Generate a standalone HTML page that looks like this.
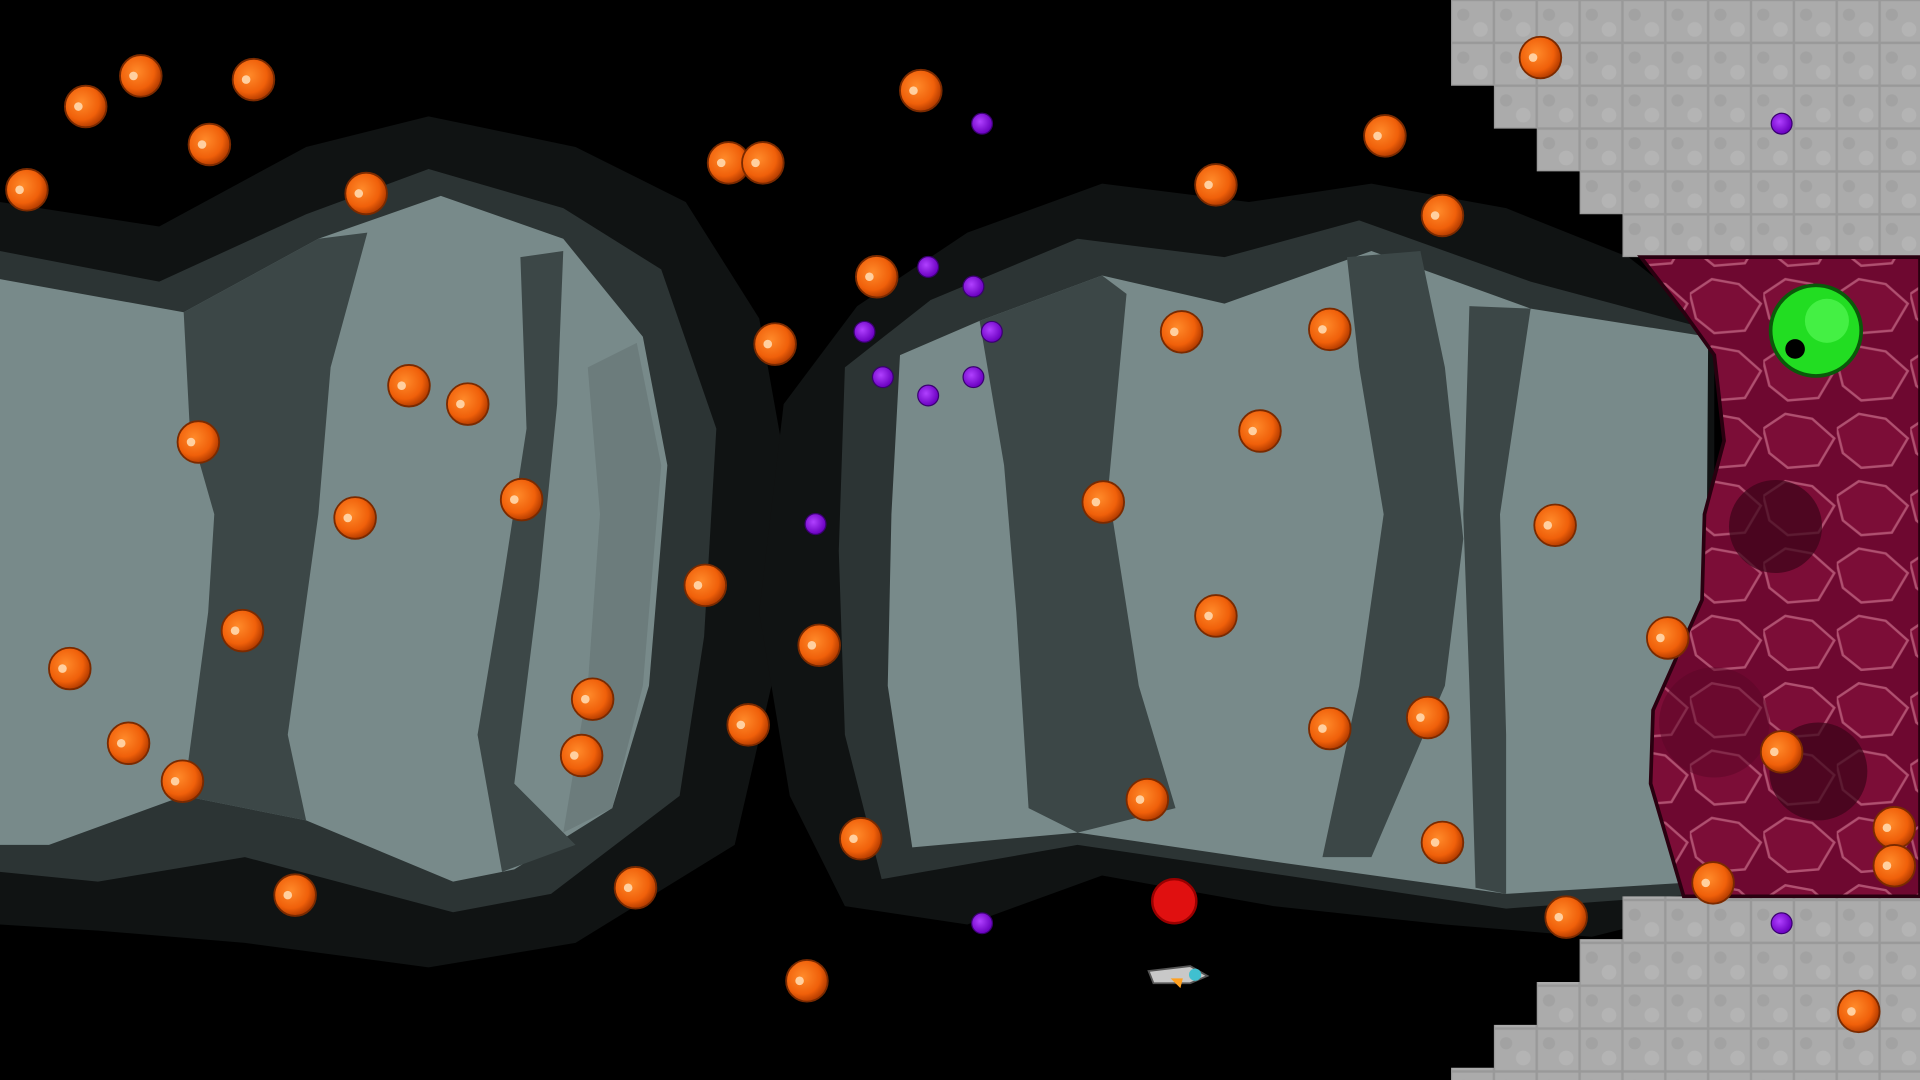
<!DOCTYPE html>
<html><head><meta charset="utf-8"><title>Game scene</title>
<style>
html,body{margin:0;padding:0;background:#000;width:1920px;height:1080px;overflow:hidden;font-family:"Liberation Sans",sans-serif;}
svg{display:block}
</style></head>
<body>
<svg id="scene" width="1920" height="1080" viewBox="0 0 1568 882" xmlns="http://www.w3.org/2000/svg">
<defs>
 <pattern id="tiles" width="35" height="35" patternUnits="userSpaceOnUse" x="1185" y="0">
  <rect width="35" height="35" fill="#ababab"/>
  <rect x="0.5" y="0.5" width="34" height="34" fill="none" stroke="#999" stroke-width="1"/>
  <circle cx="10" cy="12" r="5" fill="#a2a2a2"/><circle cx="24" cy="24" r="6" fill="#b4b4b4"/>
 </pattern>
 <pattern id="cells" width="60" height="55" patternUnits="userSpaceOnUse">
  <rect width="60" height="55" fill="#6e0830"/>
  <path d="M0 20 L18 8 L40 12 L58 28 L45 50 L20 52 L5 40 Z" fill="#7c0d37" stroke="#b05070" stroke-width="2"/>
 </pattern>
 <radialGradient id="og" cx="0.4" cy="0.4" r="0.6">
  <stop offset="0" stop-color="#ff8a2a"/><stop offset="0.7" stop-color="#f0600a"/><stop offset="1" stop-color="#b83e00"/>
 </radialGradient>
 <radialGradient id="pg" cx="0.4" cy="0.4" r="0.6">
  <stop offset="0" stop-color="#b040ff"/><stop offset="1" stop-color="#6a00c0"/>
 </radialGradient>
</defs>

<rect width="1568" height="882" fill="#000"/>

<g>
 <path fill="#101313" d="M0 165 L130 185 L250 120 L350 95 L470 120 L560 165 L620 260 L645 400 L630 560 L600 690 L470 770 L350 790 L200 770 L80 760 L0 755 Z"/>
 <path fill="#2c3434" d="M0 205 L130 230 L250 175 L350 138 L460 170 L540 220 L585 350 L575 520 L555 650 L450 730 L370 745 L200 700 L80 720 L0 712 Z"/>
 <path fill="#788a8a" d="M0 228 L150 255 L260 195 L360 160 L460 195 L525 275 L545 380 L530 560 L500 660 L420 710 L370 720 L250 670 L150 650 L40 690 L0 690 Z"/>
 <path fill="#3c4747" d="M150 255 L260 195 L300 190 L270 300 L260 420 L235 600 L250 670 L150 650 L170 500 L175 420 L155 350 Z"/>
 <path fill="#3c4747" d="M425 210 L460 205 L455 330 L440 480 L420 640 L470 690 L410 712 L390 600 L410 480 L430 350 Z"/>
 <path fill="#6c7c7c" d="M480 300 L520 280 L540 380 L525 560 L500 660 L460 680 L480 560 L490 420 Z"/>
</g>

<g>
 <path fill="#101313" d="M640 330 L700 250 L790 190 L900 150 L1020 165 L1120 150 L1230 170 L1330 210 L1400 265 L1400 740 L1300 765 L1180 755 L1040 740 L900 715 L790 755 L690 740 L645 650 L620 500 Z"/>
 <path fill="#2c3434" d="M690 300 L760 245 L880 195 L1000 210 L1110 180 L1250 230 L1392 268 L1392 730 L1230 742 L1050 715 L880 690 L720 718 L690 600 L685 450 Z"/>
 <path fill="#788a8a" d="M735 290 L800 262 L900 225 L1000 248 L1120 205 L1250 252 L1395 275 L1392 720 L1230 730 L1050 705 L880 680 L745 692 L725 560 L728 420 Z"/>
 <path fill="#3c4747" d="M800 262 L900 225 L920 240 L905 400 L930 560 L960 660 L880 680 L840 660 L830 500 L820 380 Z"/>
 <path fill="#3c4747" d="M1100 210 L1160 205 L1180 300 L1195 440 L1180 560 L1120 700 L1080 700 L1110 560 L1130 420 L1110 300 Z"/>
 <path fill="#3c4747" d="M1200 250 L1250 252 L1225 420 L1230 600 L1230 730 L1205 725 L1200 560 L1195 420 Z"/>
</g>

<g>
 <path fill="url(#tiles)" d="M1185 0 L1568 0 L1568 210 L1325 210 L1325 175 L1290 175 L1290 140 L1255 140 L1255 105 L1220 105 L1220 70 L1185 70 Z"/>
 <path fill="url(#tiles)" d="M1325 732 L1568 732 L1568 882 L1185 882 L1185 872 L1220 872 L1220 837 L1255 837 L1255 802 L1290 802 L1290 767 L1325 767 Z"/>
</g>

<g>
 <path fill="url(#cells)" stroke="#2a0010" stroke-width="3" d="M1340 210 L1568 210 L1568 732 L1375 732 L1348 640 L1350 580 L1390 490 L1392 420 L1408 360 L1400 290 L1375 255 Z"/>
 <circle cx="1450" cy="430" r="38" fill="#3a0418" opacity="0.7"/>
 <circle cx="1485" cy="630" r="40" fill="#3a0418" opacity="0.7"/>
 <circle cx="1400" cy="590" r="45" fill="#5a0626" opacity="0.5"/>
 <circle cx="1483" cy="270" r="37" fill="#22dd22" stroke="#0a5a0a" stroke-width="3"/>
 <circle cx="1492" cy="262" r="18" fill="#44f044"/>
 <circle cx="1466" cy="285" r="8" fill="#000"/>
</g>

<g id="orbs"></g>

<circle cx="959" cy="736" r="18" fill="#e01010" stroke="#900" stroke-width="2"/>
<g transform="translate(962 797)">
 <path d="M-24 -4 L10 -8 L24 0 L10 6 L-20 6 Z" fill="#c8c8c8" stroke="#555" stroke-width="1.5"/>
 <circle cx="14" cy="-1" r="5" fill="#40c0d0"/>
 <path d="M-6 2 L2 10 L4 2 Z" fill="#ffa020"/>
</g>
</svg>
<script>
const orangeX=[70,115,207,171,22,299,595,623,752,1131,993,1178,1258,716,633,965,1086,334,382,162,1029,426,290,901,1270,576,198,57,669,993,1362,484,105,475,611,149,1086,1166,1455,937,1547,1547,703,1178,1399,1279,241,519,659,1518];
const orangeY=[87,62,65,118,155,158,133,133,74,111,151,176,47,226,281,271,269,315,330,361,352,408,423,410,429,478,515,546,527,503,521,571,607,617,592,638,595,586,614,653,676,707,685,688,721,749,731,725,801,826];
const purpleX=[802,1455,758,795,706,810,721,795,758,666,802,1455];
const purpleY=[101,101,218,234,271,271,308,308,323,428,754,754];
const NS='http://www.w3.org/2000/svg';
const g=document.getElementById('orbs');
for(let i=0;i<orangeX.length;i++){
  const c=document.createElementNS(NS,'circle');
  c.setAttribute('cx',orangeX[i]);c.setAttribute('cy',orangeY[i]);c.setAttribute('r',17);
  c.setAttribute('fill','url(#og)');c.setAttribute('stroke','#7a2a00');c.setAttribute('stroke-width','1.5');
  
  
  g.appendChild(c);
  const h=document.createElementNS(NS,'circle');
  h.setAttribute('cx',orangeX[i]-6);h.setAttribute('cy',orangeY[i]);h.setAttribute('r',3.5);h.setAttribute('fill','#ffd0a0');
  
  
  g.appendChild(h);
}
for(let i=0;i<purpleX.length;i++){
  const c=document.createElementNS(NS,'circle');
  c.setAttribute('cx',purpleX[i]);c.setAttribute('cy',purpleY[i]);c.setAttribute('r',8.5);
  c.setAttribute('fill','url(#pg)');c.setAttribute('stroke','#3a0070');c.setAttribute('stroke-width','1');
  
  
  g.appendChild(c);
}
</script>
</body></html>
